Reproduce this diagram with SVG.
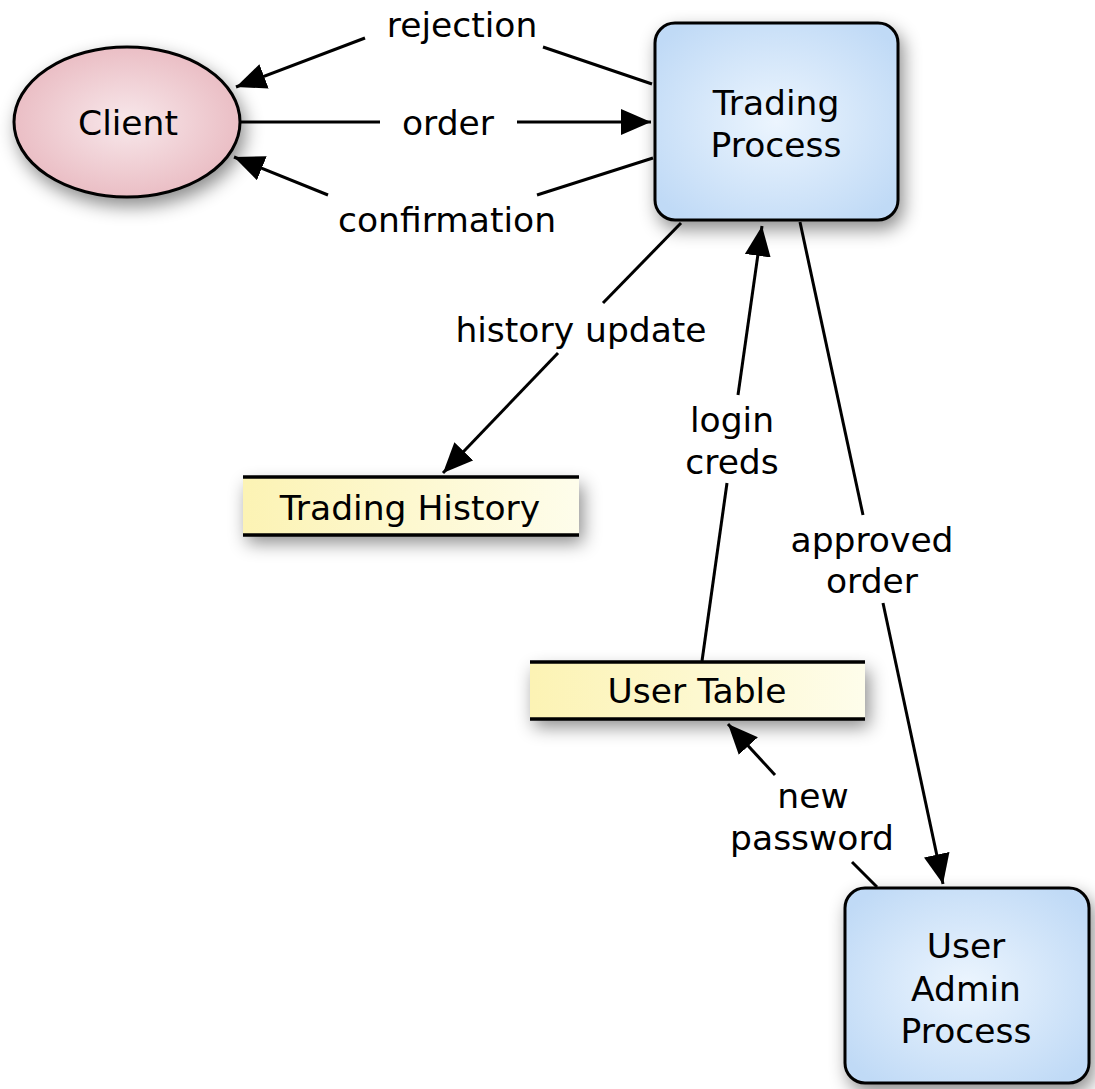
<svg xmlns="http://www.w3.org/2000/svg" width="1095" height="1089" viewBox="0 0 1095 1089">
  <style>
    .lbl { font-family: "DejaVu Sans", Verdana, sans-serif; font-size: 34.5px; fill: #000; text-anchor: middle; }
    .edge { stroke: #000; stroke-width: 3; fill: none; stroke-linecap: butt; }
    .outline { stroke: #000; stroke-width: 3; }
    .rule { stroke: #000; stroke-width: 3.5; }
  </style>
  <defs>
    <radialGradient id="pinkFill" cx="50%" cy="50%" r="55%">
      <stop offset="0" stop-color="#f8e8eb"/>
      <stop offset="1" stop-color="#e9bac1"/>
    </radialGradient>
    <radialGradient id="blueFill" cx="50%" cy="50%" r="62%">
      <stop offset="0" stop-color="#ecf5fe"/>
      <stop offset="1" stop-color="#c0daf6"/>
    </radialGradient>
    <linearGradient id="yellowFill" x1="0" y1="0" x2="1" y2="0">
      <stop offset="0" stop-color="#fcf3b4"/>
      <stop offset="1" stop-color="#fefdeb"/>
    </linearGradient>
    <filter id="shadow" x="-20%" y="-20%" width="150%" height="170%">
      <feDropShadow dx="4" dy="8" stdDeviation="9" flood-color="#000" flood-opacity="0.45"/>
    </filter>
    <marker id="arrow" markerUnits="userSpaceOnUse" markerWidth="32" markerHeight="28" refX="30" refY="13" orient="auto">
      <path d="M0,0 L30,13 L0,26 z" fill="#000"/>
    </marker>
  </defs>

  <!-- connectors, split where the labels sit -->
  <g id="connectors">
    <!-- rejection: Trading Process -> Client -->
    <line class="edge" x1="652" y1="84" x2="543" y2="47"/>
    <line class="edge" x1="365" y1="38" x2="236" y2="87" marker-end="url(#arrow)"/>
    <!-- order: Client -> Trading Process -->
    <line class="edge" x1="240" y1="122" x2="380" y2="122"/>
    <line class="edge" x1="517" y1="122" x2="651" y2="122" marker-end="url(#arrow)"/>
    <!-- confirmation: Trading Process -> Client -->
    <line class="edge" x1="653" y1="158" x2="537" y2="195"/>
    <line class="edge" x1="328" y1="195" x2="234" y2="157" marker-end="url(#arrow)"/>
    <!-- history update -->
    <line class="edge" x1="681" y1="223" x2="603" y2="303"/>
    <line class="edge" x1="558" y1="353" x2="443" y2="473" marker-end="url(#arrow)"/>
    <!-- login creds -->
    <line class="edge" x1="702" y1="661" x2="727" y2="483"/>
    <line class="edge" x1="738" y1="395" x2="762" y2="226" marker-end="url(#arrow)"/>
    <!-- approved order -->
    <line class="edge" x1="800" y1="222" x2="863" y2="515"/>
    <line class="edge" x1="883" y1="603" x2="943" y2="884" marker-end="url(#arrow)"/>
    <!-- new password -->
    <line class="edge" x1="877" y1="887" x2="852" y2="862"/>
    <line class="edge" x1="775" y1="775" x2="728" y2="724" marker-end="url(#arrow)"/>

    <text class="lbl" x="462" y="37">rejection</text>
    <text class="lbl" x="448" y="135">order</text>
    <text class="lbl" x="447" y="232">confirmation</text>
    <text class="lbl" x="581" y="342">history update</text>
    <text class="lbl" x="732" y="432">login</text>
    <text class="lbl" x="732" y="474">creds</text>
    <text class="lbl" x="872" y="552">approved</text>
    <text class="lbl" x="872" y="593">order</text>
    <text class="lbl" x="813" y="808">new</text>
    <text class="lbl" x="812" y="850">password</text>
  </g>

  <g id="client">
    <ellipse cx="127" cy="122" rx="113" ry="75" fill="url(#pinkFill)" class="outline" filter="url(#shadow)"/>
    <text class="lbl" x="128" y="135">Client</text>
  </g>

  <g id="trading-process">
    <rect x="655" y="23" width="243" height="197" rx="20" fill="url(#blueFill)" class="outline" filter="url(#shadow)"/>
    <text class="lbl" x="776" y="115">Trading</text>
    <text class="lbl" x="776" y="157">Process</text>
  </g>

  <g id="trading-history">
    <rect x="243" y="477" width="336" height="58" fill="url(#yellowFill)" filter="url(#shadow)"/>
    <line class="rule" x1="243" y1="477" x2="579" y2="477"/>
    <line class="rule" x1="243" y1="535" x2="579" y2="535"/>
    <text class="lbl" x="410" y="520">Trading History</text>
  </g>

  <g id="user-table">
    <rect x="530" y="662" width="335" height="57" fill="url(#yellowFill)" filter="url(#shadow)"/>
    <line class="rule" x1="530" y1="662" x2="865" y2="662"/>
    <line class="rule" x1="530" y1="719" x2="865" y2="719"/>
    <text class="lbl" x="697" y="703">User Table</text>
  </g>

  <g id="user-admin-process">
    <rect x="845" y="888" width="244" height="195" rx="20" fill="url(#blueFill)" class="outline" filter="url(#shadow)"/>
    <text class="lbl" x="966" y="958">User</text>
    <text class="lbl" x="966" y="1001">Admin</text>
    <text class="lbl" x="966" y="1043">Process</text>
  </g>
</svg>
